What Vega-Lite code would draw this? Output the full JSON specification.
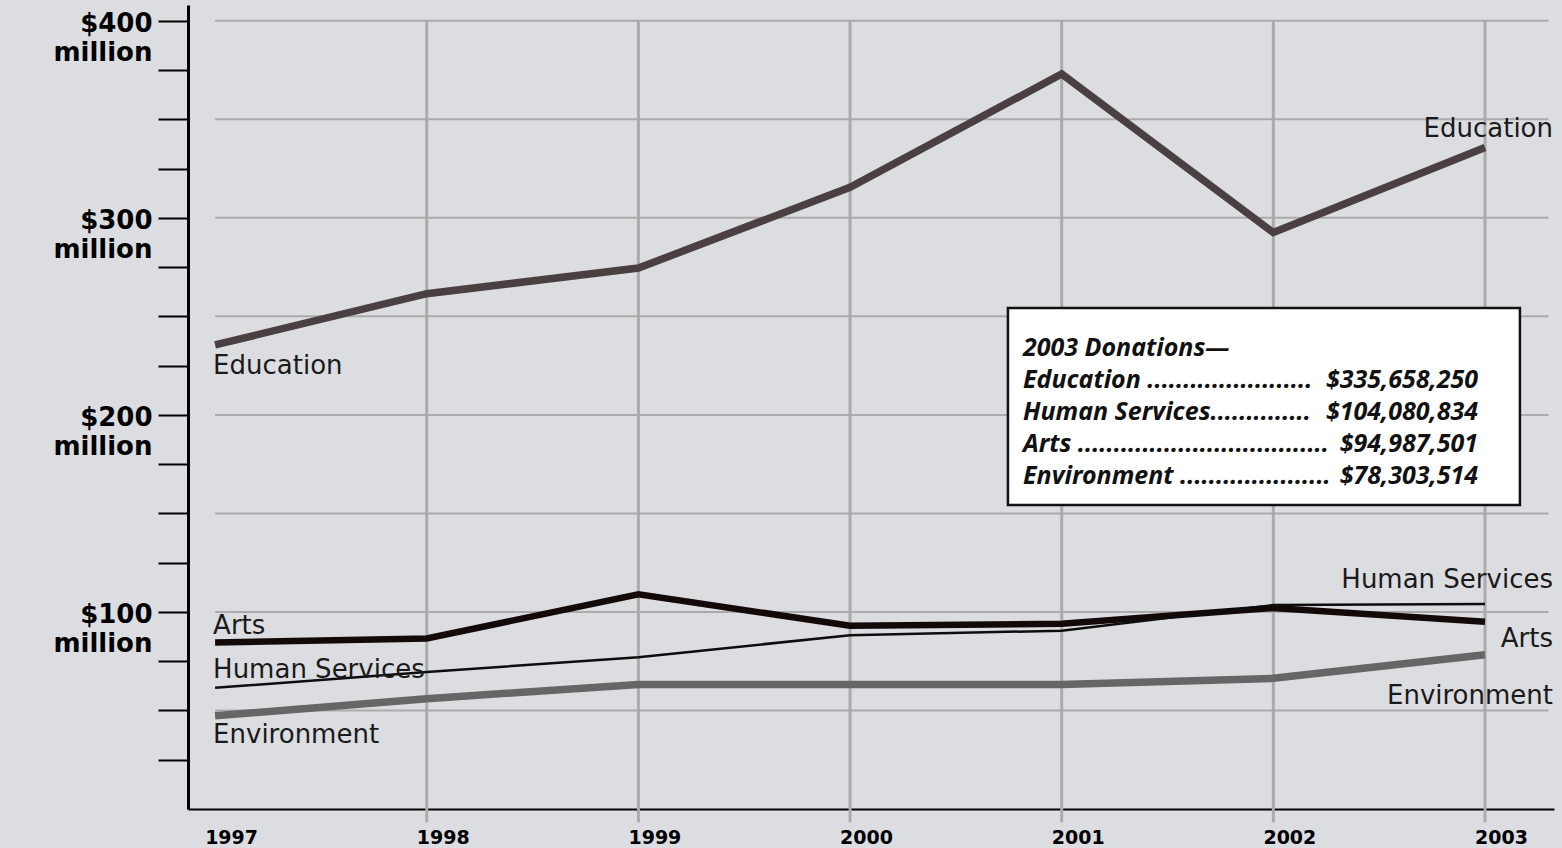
{
  "$schema": "https://vega.github.io/schema/vega-lite/v6.json",
  "width": 1366,
  "height": 804,
  "autosize": {"type": "none"},
  "padding": {"left": 188, "top": 5, "right": 8, "bottom": 39},
  "background": "#dcdde0",
  "config": {"view": {"stroke": null}},
  "datasets": {
    "series": [
      {"category": "Education", "year": 1997, "amount": 235.5},
      {"category": "Education", "year": 1998, "amount": 261.5},
      {"category": "Education", "year": 1999, "amount": 274.5},
      {"category": "Education", "year": 2000, "amount": 315.5},
      {"category": "Education", "year": 2001, "amount": 373},
      {"category": "Education", "year": 2002, "amount": 292.5},
      {"category": "Education", "year": 2003, "amount": 335.66},
      {"category": "Arts", "year": 1997, "amount": 84.5},
      {"category": "Arts", "year": 1998, "amount": 86.5},
      {"category": "Arts", "year": 1999, "amount": 109},
      {"category": "Arts", "year": 2000, "amount": 93},
      {"category": "Arts", "year": 2001, "amount": 94},
      {"category": "Arts", "year": 2002, "amount": 102},
      {"category": "Arts", "year": 2003, "amount": 94.99},
      {"category": "Human Services", "year": 1997, "amount": 61.5},
      {"category": "Human Services", "year": 1998, "amount": 69.5},
      {"category": "Human Services", "year": 1999, "amount": 77},
      {"category": "Human Services", "year": 2000, "amount": 88.2},
      {"category": "Human Services", "year": 2001, "amount": 90.5},
      {"category": "Human Services", "year": 2002, "amount": 103.5},
      {"category": "Human Services", "year": 2003, "amount": 104.08},
      {"category": "Environment", "year": 1997, "amount": 47.3},
      {"category": "Environment", "year": 1998, "amount": 56},
      {"category": "Environment", "year": 1999, "amount": 63.2},
      {"category": "Environment", "year": 2000, "amount": 63.2},
      {"category": "Environment", "year": 2001, "amount": 63.2},
      {"category": "Environment", "year": 2002, "amount": 66.3},
      {"category": "Environment", "year": 2003, "amount": 78.3}
    ],
    "gridYears": [
      {"year": 1998}, {"year": 1999}, {"year": 2000},
      {"year": 2001}, {"year": 2002}, {"year": 2003}
    ],
    "levels": [
      {"level": 50}, {"level": 100}, {"level": 150}, {"level": 200},
      {"level": 250}, {"level": 300}, {"level": 350}, {"level": 400}
    ],
    "seriesLabels": [
      {"category": "Education", "year": 1997, "value": 220.5},
      {"category": "Arts", "year": 1997, "value": 88.7},
      {"category": "Human Services", "year": 1997, "value": 66.4},
      {"category": "Environment", "year": 1997, "value": 33.5},
      {"category": "Education", "year": 2003, "value": 341.2},
      {"category": "Human Services", "year": 2003, "value": 112.0},
      {"category": "Arts", "year": 2003, "value": 82.1},
      {"category": "Environment", "year": 2003, "value": 53.2}
    ],
    "totals2003": [
      {"line": 0, "label": "2003 Donations—"},
      {"line": 1, "label": "Education .......................", "amount": 335658250},
      {"line": 2, "label": "Human Services..............", "amount": 104080834},
      {"line": 3, "label": "Arts ...................................", "amount": 94987501},
      {"line": 4, "label": "Environment .....................", "amount": 78303514}
    ]
  },
  "layer": [
    {
      "data": {"name": "levels"},
      "mark": {"type": "rule", "color": "#ababab", "strokeWidth": 2},
      "encoding": {
        "y": {"field": "level", "type": "quantitative", "scale": {"domain": [0, 408], "nice": false, "zero": false}, "axis": null},
        "x": {"datum": 1997},
        "x2": {"datum": 2003.3}
      }
    },
    {
      "data": {"name": "gridYears"},
      "mark": {"type": "rule", "color": "#ababab", "strokeWidth": 3},
      "encoding": {
        "x": {"field": "year", "type": "quantitative"},
        "y": {"datum": 400, "scale": {"domain": [0, 408], "nice": false, "zero": false}, "axis": null},
        "y2": {"datum": -6.7}
      }
    },
    {
      "data": {"name": "series"},
      "transform": [{"filter": "datum.category === 'Education'"}],
      "mark": {"type": "line", "strokeCap": "butt", "strokeJoin": "miter", "strokeWidth": 7.5, "color": "#4a3f41"},
      "encoding": {
        "x": {
          "field": "year",
          "type": "quantitative",
          "scale": {"domain": [1996.872, 2003.326], "nice": false, "zero": false},
          "axis": {
            "title": null,
            "values": [1997, 1998, 1999, 2000, 2001, 2002, 2003],
            "format": "d",
            "domainColor": "#000000",
            "domainWidth": 2,
            "ticks": false,
            "tickSize": 0,
            "grid": false,
            "labelFont": "DejaVu Sans",
            "labelFontWeight": "bold",
            "labelFontSize": 19,
            "labelColor": "#000000",
            "labelPadding": 19,
            "labelOffset": 16,
            "labelFlush": false,
            "labelOverlap": false
          }
        },
        "y": {
          "field": "amount",
          "type": "quantitative",
          "scale": {"domain": [0, 408], "nice": false, "zero": false},
          "axis": {
            "title": null,
            "values": [25, 50, 75, 100, 125, 150, 175, 200, 225, 250, 275, 300, 325, 350, 375, 400],
            "labelExpr": "datum.value % 100 === 0 ? ['$' + datum.value, 'million'] : ''",
            "domainColor": "#000000",
            "domainWidth": 3,
            "tickColor": "#000000",
            "tickWidth": 2,
            "tickSize": 30,
            "grid": false,
            "labelFont": "DejaVu Sans",
            "labelFontWeight": "bold",
            "labelFontSize": 26,
            "labelColor": "#000000",
            "labelBaseline": "top",
            "labelOffset": -10,
            "labelLineHeight": 29,
            "labelPadding": 6,
            "labelOverlap": false,
            "labelFlush": false
          }
        }
      }
    },
    {
      "data": {"name": "series"},
      "transform": [{"filter": "datum.category === 'Arts'"}],
      "mark": {"type": "line", "strokeCap": "butt", "strokeJoin": "miter", "strokeWidth": 6.5, "color": "#140909"},
      "encoding": {
        "x": {"field": "year", "type": "quantitative"},
        "y": {"field": "amount", "type": "quantitative", "scale": {"domain": [0, 408], "nice": false, "zero": false}, "axis": null}
      }
    },
    {
      "data": {"name": "series"},
      "transform": [{"filter": "datum.category === 'Human Services'"}],
      "mark": {"type": "line", "strokeCap": "butt", "strokeJoin": "miter", "strokeWidth": 2.5, "color": "#0d0d0d"},
      "encoding": {
        "x": {"field": "year", "type": "quantitative"},
        "y": {"field": "amount", "type": "quantitative", "scale": {"domain": [0, 408], "nice": false, "zero": false}, "axis": null}
      }
    },
    {
      "data": {"name": "series"},
      "transform": [{"filter": "datum.category === 'Environment'"}],
      "mark": {"type": "line", "strokeCap": "butt", "strokeJoin": "miter", "strokeWidth": 7.5, "color": "#666666"},
      "encoding": {
        "x": {"field": "year", "type": "quantitative"},
        "y": {"field": "amount", "type": "quantitative", "scale": {"domain": [0, 408], "nice": false, "zero": false}, "axis": null}
      }
    },
    {
      "data": {"name": "seriesLabels"},
      "transform": [{"filter": "datum.year === 1997"}],
      "mark": {"type": "text", "align": "left", "baseline": "alphabetic", "font": "DejaVu Sans", "fontSize": 26, "color": "#1a1a1a", "dx": -2},
      "encoding": {
        "x": {"field": "year", "type": "quantitative"},
        "y": {"field": "value", "type": "quantitative", "scale": {"domain": [0, 408], "nice": false, "zero": false}, "axis": null},
        "text": {"field": "category"}
      }
    },
    {
      "data": {"name": "seriesLabels"},
      "transform": [{"filter": "datum.year === 2003"}],
      "mark": {"type": "text", "align": "right", "baseline": "alphabetic", "font": "DejaVu Sans", "fontSize": 26, "color": "#1a1a1a", "dx": 68},
      "encoding": {
        "x": {"field": "year", "type": "quantitative"},
        "y": {"field": "value", "type": "quantitative", "scale": {"domain": [0, 408], "nice": false, "zero": false}, "axis": null},
        "text": {"field": "category"}
      }
    },
    {
      "data": {"name": "totals2003"},
      "transform": [{"filter": "datum.line === 0"}],
      "mark": {"type": "rect", "fill": "#ffffff", "stroke": "#111111", "strokeWidth": 2.5},
      "encoding": {
        "x": {"datum": 2000.746},
        "x2": {"datum": 2003.165},
        "y": {"datum": -1.5, "scale": {"domain": [-10.96875, 14.15625], "reverse": true, "nice": false, "zero": false}, "axis": null},
        "y2": {"datum": 4.656}
      }
    },
    {
      "data": {"name": "totals2003"},
      "mark": {"type": "text", "align": "left", "baseline": "alphabetic", "font": "Noto Sans", "fontWeight": "bold", "fontStyle": "italic", "fontSize": 25, "color": "#111111"},
      "encoding": {
        "x": {"datum": 2000.817},
        "y": {"field": "line", "type": "quantitative", "scale": {"domain": [-10.96875, 14.15625], "reverse": true, "nice": false, "zero": false}, "axis": null},
        "text": {"field": "label"}
      }
    },
    {
      "data": {"name": "totals2003"},
      "transform": [{"filter": "isValid(datum.amount)"}],
      "mark": {"type": "text", "align": "right", "baseline": "alphabetic", "font": "Noto Sans", "fontWeight": "bold", "fontStyle": "italic", "fontSize": 25, "color": "#111111"},
      "encoding": {
        "x": {"datum": 2002.967},
        "y": {"field": "line", "type": "quantitative", "scale": {"domain": [-10.96875, 14.15625], "reverse": true, "nice": false, "zero": false}, "axis": null},
        "text": {"field": "amount", "type": "quantitative", "format": "$,d"}
      }
    }
  ],
  "resolve": {"scale": {"y": "independent"}}
}
